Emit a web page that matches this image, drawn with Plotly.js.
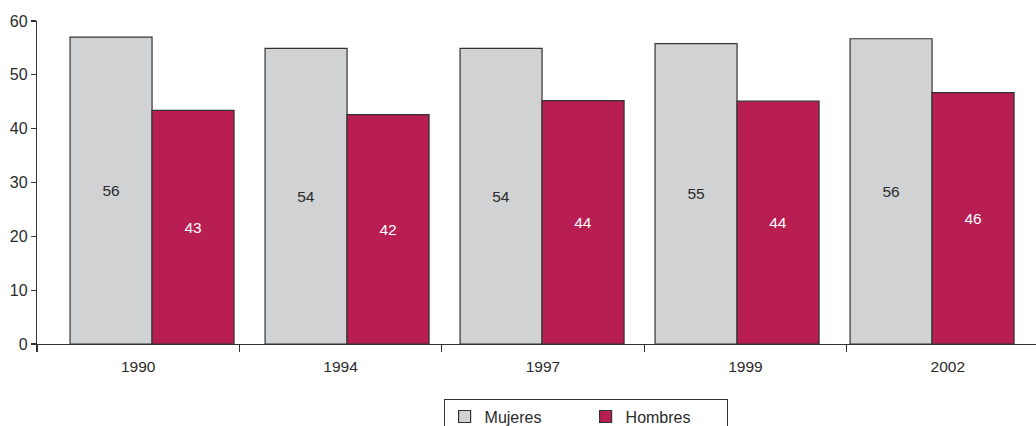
<!DOCTYPE html>
<html>
<head>
<meta charset="utf-8">
<script src="https://cdn.plot.ly/plotly-3.0.1.min.js"></script>
<style>html,body{margin:0;padding:0;background:#fff;}#chart{width:1036px;height:426px;}</style>
</head>
<body>
<div id="chart"></div>
<script>
const years = ['1990', '1994', '1997', '1999', '2002'];
const mujeres = [57.0, 54.9, 54.9, 55.8, 56.7];
const hombres = [43.4, 42.6, 45.2, 45.1, 46.7];
const mujeresLabels = ['56', '54', '54', '55', '56'];
const hombresLabels = ['43', '42', '44', '44', '46'];
const yTicks = [0, 10, 20, 30, 40, 50, 60];

const FONT = 'Liberation Sans, Arial, Helvetica, sans-serif';

const traces = [
  {
    type: 'bar', name: 'Mujeres', x: years, y: mujeres,
    text: mujeresLabels, textposition: 'inside', insidetextanchor: 'middle',
    textangle: 0, constraintext: 'none',
    textfont: {family: FONT, size: 15.5, color: '#2b2b2b'},
    marker: {color: '#d1d2d4', line: {color: '#333333', width: 1.2}},
    hoverinfo: 'skip'
  },
  {
    type: 'bar', name: 'Hombres', x: years, y: hombres,
    text: hombresLabels, textposition: 'inside', insidetextanchor: 'middle',
    textangle: 0, constraintext: 'none',
    textfont: {family: FONT, size: 15.5, color: '#ffffff'},
    marker: {color: '#b81e52', line: {color: '#333333', width: 1.2}},
    hoverinfo: 'skip'
  },
  {
    type: 'scatter', mode: 'none', x: years, y: years.map(() => null),
    xaxis: 'x2', yaxis: 'y', showlegend: false, hoverinfo: 'skip'
  }
];

const layout = {
  width: 1036, height: 426,
  margin: {l: 37, r: 0, t: 21, b: 82, autoexpand: false},
  paper_bgcolor: '#ffffff', plot_bgcolor: '#ffffff',
  font: {family: FONT, size: 15, color: '#2b2b2b'},
  barmode: 'group', bargap: 0.159, bargroupgap: 0,
  showlegend: true,
  legend: {
    orientation: 'h', x: 0.407, xanchor: 'left', y: -0.169, yanchor: 'top',
    bordercolor: '#333333', borderwidth: 1, bgcolor: '#ffffff',
    font: {family: FONT, size: 16, color: '#2b2b2b'},
    entrywidth: 96, entrywidthmode: 'pixels', traceorder: 'normal'
  },
  xaxis: {
    type: 'category', range: [-0.590, 4.533],
    showticklabels: false, ticks: '', showline: false, showgrid: false, zeroline: false,
    fixedrange: true
  },
  xaxis2: {
    type: 'category', overlaying: 'x', anchor: 'y', side: 'bottom',
    range: [-0.5, 4.436],
    showline: true, linecolor: '#333333', linewidth: 1.2,
    ticks: 'outside', tickson: 'boundaries', ticklen: 7, tickcolor: '#333333', tickwidth: 1.2,
    ticklabelstandoff: 8,
    showgrid: false, zeroline: false,
    tickfont: {family: FONT, size: 15.5, color: '#2b2b2b'}
  },
  yaxis: {
    range: [0, 60], tickmode: 'array', tickvals: yTicks,
    showline: true, linecolor: '#333333', linewidth: 1.2,
    ticks: 'outside', ticklen: 5, tickcolor: '#333333', tickwidth: 1.2,
    showgrid: false, zeroline: false,
    tickfont: {family: FONT, size: 16, color: '#2b2b2b'}
  }
};

Plotly.newPlot('chart', traces, layout, {displayModeBar: false, staticPlot: true});
</script>
</body>
</html>
